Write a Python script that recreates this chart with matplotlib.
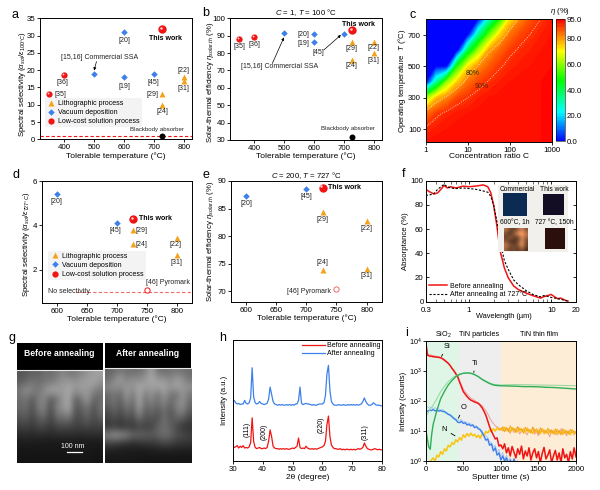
#!/usr/bin/env python
"""Nine-panel figure: selective absorber benchmarks, annealing tests, depth profile."""
import matplotlib
matplotlib.use("Agg")
import matplotlib.pyplot as plt
import matplotlib.transforms as mtrans
from matplotlib.colors import LinearSegmentedColormap
from matplotlib.patches import Rectangle
from matplotlib.ticker import NullFormatter
import numpy as np

plt.rcParams["font.family"] = ["Liberation Sans", "DejaVu Sans"]
plt.rcParams["mathtext.fontset"] = "custom"
plt.rcParams["mathtext.rm"] = "Liberation Sans"
plt.rcParams["mathtext.it"] = "Liberation Sans:italic"
plt.rcParams["mathtext.bf"] = "Liberation Sans:bold"
plt.rcParams["axes.linewidth"] = 0.7
plt.rcParams["xtick.major.width"] = 0.6
plt.rcParams["ytick.major.width"] = 0.6
plt.rcParams["xtick.minor.width"] = 0.4
plt.rcParams["ytick.minor.width"] = 0.4

W, H = 600, 490
ORANGE, BLUE, RED = "#f5a21b", "#3d80ea", "#f01414"
TICK_FS, XLABEL_FS, YLABEL_FS, NOTE_FS = 5.7, 6.0, 5.6, 5.0

# panel a / b
lith_t = [727, 727, 800, 800]
a_lith = [13, 10, 18, 16.8]
a_vac_t = [500, 600, 600, 700]
a_vac = [19, 31, 18, 19]
sol_t = [350, 400]
a_sol = [13.2, 18.6]
b_lith = [86.5, 76, 86.5, 80]
b_vac = [91.5, 91, 86.5, 91]
b_sol = [88, 89.5]
# panel d / e
d_lith = [3.8, 3.15, 3.45, 2.65]
de_vac_t = [600, 700]
d_vac = [5.4, 4.1]
e_lith = [84.3, 73.8, 82.7, 74.1]
e_vac = [87.3, 88.5]

# panel c, efficiency
c_ratio = [1, 1.78, 3.16, 5.62, 10, 17.8, 31.6, 56.2, 100, 178, 316, 562, 1000]
c_temp = [21, 100, 200, 300, 400, 500, 600, 700, 800]
c_eta = [
    [93, 93.5, 94, 94, 94, 94, 94, 94, 94, 94, 94, 94, 94.5],
    [91, 92.5, 93, 93.5, 93.5, 94, 94, 94, 94, 94, 94, 94, 94.5],
    [84, 89, 91.5, 92.5, 93, 93.5, 93.5, 94, 94, 94, 94, 94, 94.5],
    [60, 76, 82, 88, 90, 92, 93, 93.5, 93.5, 94, 94, 94, 94.5],
    [0, 32, 60, 75, 84, 88, 90.5, 92, 93, 93.5, 94, 94, 94.5],
    [0, 0, 0, 50, 72, 81, 86, 89.5, 91.5, 92.5, 93, 93.5, 94],
    [0, 0, 0, 0, 40, 62, 79, 85, 89, 91, 92, 93, 93.5],
    [0, 0, 0, 0, 0, 33, 56, 74, 84, 88, 90.3, 92, 93],
    [0, 0, 0, 0, 0, 0, 28, 48, 72, 82, 87, 90.2, 92],
]

# panel f
f_wl = [0.3, 0.33, 0.38, 0.42, 0.46, 0.5, 0.55, 0.6, 0.7, 0.85, 1, 1.2, 1.5, 1.7, 1.85, 2,
        2.2, 2.4, 2.7, 3, 3.5, 4, 5, 6, 7, 7.5, 8, 9, 10, 11, 12, 13, 15, 16]
f_before = [93, 91, 89, 90, 93, 96, 94, 95, 94, 95.5, 95, 95.5, 96.5, 95, 90, 80,
            62, 42, 28, 20, 13, 10, 7, 5, 3.5, 3, 4, 5, 6, 4, 2.5, 3, 1, 0.5]
f_after = [88, 88, 89.5, 93, 95, 97, 95, 94, 93.5, 94, 93.5, 93, 91.5, 90.5, 87, 80,
           66, 50, 34, 27, 18, 14, 9, 6, 4.5, 4, 5, 4.5, 3.5, 3, 2.5, 2, 1, 0.5]

# panel g, grey levels of the two SEM crops (below the black caption band)
g_left = [
    [95, 100, 110, 105, 125, 120, 135, 150, 130, 135, 150, 165, 175, 180],
    [105, 115, 130, 125, 130, 135, 150, 170, 175, 165, 175, 180, 185, 165],
    [135, 165, 150, 130, 160, 190, 185, 170, 190, 165, 175, 170, 150, 130],
    [120, 130, 100, 140, 150, 100, 125, 170, 185, 105, 135, 175, 110, 120],
    [115, 125, 85, 140, 145, 85, 150, 165, 190, 95, 110, 130, 90, 130],
    [95, 105, 80, 110, 120, 75, 125, 130, 145, 85, 90, 115, 80, 110],
    [75, 80, 65, 85, 85, 65, 85, 90, 85, 75, 80, 85, 75, 80],
    [50, 55, 50, 55, 55, 50, 55, 55, 55, 55, 50, 55, 55, 55],
    [32, 32, 32, 30, 30, 30, 30, 30, 30, 30, 30, 30, 30, 30],
    [26, 26, 26, 26, 26, 26, 26, 26, 28, 28, 28, 28, 26, 26],
    [22, 22, 22, 22, 22, 22, 22, 22, 22, 22, 24, 24, 22, 22],
]
g_right = [
    [110, 120, 130, 125, 120, 125, 140, 185, 125, 120, 125, 130, 125, 120],
    [120, 150, 180, 140, 160, 150, 170, 190, 170, 165, 150, 175, 160, 130],
    [150, 165, 150, 175, 165, 190, 180, 175, 185, 190, 165, 185, 170, 165],
    [115, 130, 115, 170, 130, 190, 130, 170, 120, 170, 130, 120, 170, 130],
    [110, 130, 100, 150, 115, 185, 125, 140, 120, 155, 110, 150, 165, 120],
    [85, 110, 85, 120, 95, 170, 100, 120, 95, 125, 95, 130, 150, 100],
    [70, 85, 70, 90, 80, 120, 90, 95, 85, 130, 95, 110, 100, 75],
    [60, 70, 55, 65, 60, 75, 70, 75, 110, 125, 110, 80, 60, 55],
    [150, 170, 165, 150, 120, 115, 110, 105, 110, 125, 115, 90, 85, 70],
    [75, 70, 60, 55, 50, 55, 60, 60, 70, 80, 75, 65, 60, 60],
    [34, 34, 32, 32, 30, 30, 30, 32, 32, 32, 32, 32, 30, 30],
    [26, 26, 26, 26, 26, 26, 24, 24, 24, 24, 24, 24, 24, 24],
]
g_sample = [
    [150, 100, 90, 120, 170, 110],
    [110, 70, 120, 190, 215, 150],
    [90, 130, 95, 75, 180, 125],
    [125, 75, 70, 100, 190, 90],
    [160, 120, 95, 110, 205, 95],
    [130, 85, 110, 80, 120, 70],
]

# panel h, sampled every half degree from 30 to 80
h_angle = np.arange(30, 80.5, 0.5)
h_before = [12, 11, 11.5, 12.5, 10.5, 12, 11, 12.5, 10.5, 11,
            10.5, 11.5, 15, 35.5, 16, 11, 10, 10.5, 11, 10,
            10, 10.5, 10, 11, 16, 25.5, 20, 12, 10.5, 10,
            10, 9.5, 10, 9.5, 10, 9.5, 10, 9.5, 9.5, 10,
            10.5, 10, 11, 12, 18.8, 11, 10, 10.5, 10, 12,
            10.5, 10, 9.5, 10, 9.5, 10, 9.5, 10, 10.5, 11,
            11.5, 12.5, 16, 30, 37, 20, 13, 11, 10, 10,
            9.5, 9.5, 10, 9, 9.5, 9, 9.5, 9.5, 9, 9.5,
            9, 9.5, 9, 9.5, 10, 9.5, 10, 11, 14.7, 12,
            10, 9.5, 9, 9, 9.5, 10, 9.5, 9, 9.5, 9, 9]
h_after = [49, 50, 48, 47, 47.5, 46.5, 47, 47, 50, 47.5,
           47, 48, 52, 77, 53, 48, 47, 47.5, 49, 47.5,
           47, 46.5, 47, 47.5, 51, 61, 55, 49, 47, 46.5,
           46, 46.5, 46, 46.5, 46, 46, 46.5, 46, 46.5, 46,
           46.5, 46, 47, 47, 50, 61, 47.5, 46.5, 47, 47.5,
           47, 47, 46.5, 46, 46.5, 46, 46, 46.5, 47, 47,
           47, 48, 54, 72, 79, 58, 49, 47, 46, 46,
           46, 46.5, 46, 46, 46.5, 46, 46, 46.5, 46, 46.5,
           46, 46.5, 46, 46.5, 46, 46.5, 47, 49, 52, 49,
           47, 46, 46, 46.5, 48, 47, 46, 46, 46, 45.5, 45.5]

# panel i, counts every 25 s
i_step = 25
si_counts = [9000, 3300, 3100, 3050, 2950, 2900, 2850, 2800, 2700, 2500, 2250, 2000, 1770, 1500,
             1200, 1000, 800, 640, 430, 300, 205, 170, 140, 120, 107, 100, 93, 88, 83, 72, 60,
             46, 34, 22, 14, 10, 7.4, 5.5, 6, 3.2, 3.5, 2.6, 3.8, 1.9, 2.8, 1.5, 3.1, 2.0, 1.3,
             2.6, 1.7, 3.2, 1.2, 2.2, 1.5, 2.8, 1.1, 1.9, 2.6, 1.3, 2.1, 0.9, 1.8, 2.9, 1.2, 1.6,
             2.4, 0.9, 1.5, 2.3, 1.1, 1.9, 0.9, 2.6, 1.3, 1.7, 0.9, 2.1, 1.2, 2.8, 1.4]
si_faded = [9000, 3600, 3400, 3300, 3200, 3100, 3000, 2900, 2800, 2600, 2400, 2100, 1850, 1550,
            1250, 1050, 850, 680, 480, 340, 250, 200, 170, 145, 125, 115, 105, 95, 88, 78, 70,
            58, 48, 38, 28, 22, 18, 15, 14, 12.5, 11, 12, 9.5, 13, 10.5, 8.5, 12, 9, 11, 14, 8,
            10, 12, 9, 7.5, 11, 9.5, 13, 8, 10, 7, 9.5, 12, 8, 10.5, 9, 6.5, 11, 8.5, 10, 7.5,
            9, 12, 8, 9.5, 7, 10, 8.5, 11, 7.5, 9.5]
o_counts = [42, 46, 50, 48, 52, 47, 50, 46, 48, 45, 44, 40, 36, 34, 30, 26, 24, 20, 19, 21, 18, 19,
            16, 17, 15, 16, 13, 14, 12, 11, 9, 7, 5, 5.5, 3.4, 3.8, 2.2, 2.8, 1.6, 1.9, 1.1, 1.5,
            1.0, 1.3, 0.8, 1.1, 0.7, 1.2, 0.8, 1.0, 0.7]
o_faded = [60, 64, 58, 62, 56, 60, 54, 55, 50, 52, 46, 42, 38, 36, 32, 28, 26, 24, 22, 24, 20, 21,
           18, 19, 17, 17, 15, 15, 13, 12, 10, 8, 7, 6, 4.5, 4, 3, 3.4, 2, 2.5, 1.4, 2, 1.1, 1.6,
           1, 1.3, 0.9, 1.2, 0.8]
n_counts = [0.8, 0.6, 0.9, 1.1, 1.3, 1.0, 1.6, 1.4, 2.1, 1.7, 2.6, 2.2, 3.4, 3.0, 4.2, 3.6, 5.2,
            4.4, 6.1, 5.0, 7.6, 6.2, 8.4, 6.8, 8.6, 7.0, 7.8, 6.2, 7.4, 5.8, 8.0, 7.0, 9.8, 8.6,
            11, 9.6, 12, 10, 13, 10.8, 12.5, 10.2, 13.5, 10.6, 12.2, 9.6, 13.2, 10.4, 11.8, 9.4,
            12.6, 9.8, 11.4, 8.9, 12.8, 9.3, 11, 8.4, 11.6, 9.2, 10.8, 8.2, 12, 8.8, 10.6, 8.2,
            11, 8.6, 10.2, 7.8, 11.4, 8.4, 9.8, 7.9, 10.8, 8.4, 10, 7.6, 11, 8.2, 9.4]
n_faded = [11, 14, 10, 13, 9.5, 15, 11, 12.5, 9, 14, 10.5, 12, 8.5, 13.5, 10, 11.5, 8.5, 14, 9.5,
           12, 8, 13, 9.5, 11, 8.5, 12.5, 9, 11, 8, 12, 9, 10.5, 7.5, 12, 8.5, 10.5, 8, 11.5,
           9, 10, 8.5]
ti_t = [0, 20, 40, 60, 80, 100, 150, 200, 250, 300, 350, 400, 450, 500, 550, 600, 650, 700, 750,
        800, 850, 900, 950, 1000, 1100, 1200, 1300, 1400, 1500, 1600, 1700, 1800, 1900, 2000]
ti_counts = [12, 6, 3, 2.5, 8, 17, 50, 120, 210, 340, 480, 640, 760, 830, 850, 830, 750, 640, 520,
             440, 380, 340, 325, 320, 315, 310, 300, 300, 295, 285, 280, 270, 260, 250]
ti_faded_t = [0, 50, 100, 150, 200, 250, 300, 350, 400, 450, 500, 550, 600, 650, 700, 750, 800,
              850, 900, 1000, 1200, 1500, 1800, 2000]
ti_faded = [30, 48, 74, 120, 205, 310, 440, 560, 690, 780, 840, 860, 840, 770, 660, 540, 460,
            400, 360, 340, 350, 340, 330, 320]


def add_axes(left, top, right, bottom, **kw):
    return fig.add_axes([left / W, 1 - bottom / H, (right - left) / W, (bottom - top) / H], **kw)


def style(ax, xlab_y, ylab_x, ylab_y=None):
    # axis labels are placed at their pixel positions in the figure
    ax.tick_params(labelsize=TICK_FS, length=2, pad=1.5)
    pos = ax.get_position()
    px_x = lambda v: (v / W - pos.x0) / pos.width
    px_y = lambda v: ((1 - v / H) - pos.y0) / pos.height
    ax.xaxis.label.set_size(XLABEL_FS)
    ax.yaxis.label.set_size(YLABEL_FS)
    ax.xaxis.label.set_va("center")
    ax.yaxis.label.set_va("center")
    ax.xaxis.set_label_coords(0.5, px_y(xlab_y))
    ax.yaxis.set_label_coords(px_x(ylab_x), 0.5 if ylab_y is None else px_y(ylab_y))


def ball(ax, x, y, size, label=None):
    # glossy red sphere: red disc plus an offset highlight
    h = ax.plot([x], [y], "o", color=RED, ms=size, mec="none", zorder=4, label=label)[0]
    tr = mtrans.offset_copy(ax.transData, fig=fig, x=-size * 0.14, y=size * 0.14, units="points")
    ax.plot([x], [y], "o", color="#ffd0d0", ms=size * 0.3, mec="none", zorder=5, transform=tr)
    return h


def scatter_groups(ax, t_l, y_l, t_v, y_v, t_s=None, y_s=None):
    ax.plot(t_l, y_l, "^", color=ORANGE, ms=4.2, mec="none", label="Lithographic process", zorder=3)
    ax.plot(t_v, y_v, "D", color=BLUE, ms=3.3, mec="none", label="Vacuum deposition", zorder=3)
    if t_s is not None:
        for x, y in zip(t_s, y_s):
            ball(ax, x, y, 4.5)
    ax.plot([], [], "o", color=RED, ms=4.5, mec="none", label="Low-cost solution process")


def notes(ax, items):
    for x, y, s in items:
        ax.text(x, y, s, ha="center", va="center", fontsize=NOTE_FS, color="#222222")


def legend(ax, x0, y0):
    ax.legend(loc="lower left", bbox_to_anchor=(x0, y0), fontsize=NOTE_FS, frameon=True,
              facecolor="#f3f3f3", edgecolor="none", framealpha=1, handletextpad=0.4,
              labelspacing=0.3, borderpad=0.3, borderaxespad=0, handlelength=1.3)


fig = plt.figure(figsize=(W / 100, H / 100), dpi=100)

# a
ax = add_axes(40, 18.3, 192, 139.3)
scatter_groups(ax, lith_t, a_lith, a_vac_t, a_vac, sol_t, a_sol)
ball(ax, 727, 31.8, 6)
ax.axhline(1, color=RED, ls="--", lw=0.8, dashes=(3, 2))
ax.plot([727], [1], "o", color="black", ms=4.3, mec="none", zorder=4)
notes(ax, [(600, 28.6, "[20]"), (517, 23.6, "[15,16] Commercial SSA"), (600, 15.4, "[19]"),
           (396, 16.4, "[36]"), (389, 13, "[35]"), (699, 16.5, "[45]"), (799, 20, "[22]"),
           (797, 14.8, "[31]"), (693, 13, "[29]"), (726, 8, "[24]")])
ax.text(708, 2.8, "Blackbody absorber", ha="center", va="center", fontsize=4.4, color="#222222")
ax.text(738, 29.2, "This work", ha="center", va="center", fontsize=NOTE_FS, fontweight="bold")
ax.annotate("", xy=(500, 19.9), xytext=(508, 22.5),
            arrowprops=dict(arrowstyle="-|>", lw=0.5, color="black", mutation_scale=4, shrinkA=0, shrinkB=0))
ax.set_xlim(320, 826)
ax.set_ylim(0, 35)
ax.set_xticks([400, 500, 600, 700, 800])
ax.set_yticks(range(0, 40, 5))
ax.set_xlabel("Tolerable temperature (°C)")
ax.set_ylabel(r"Spectral selectivity ($\alpha_{sol}/\varepsilon_{100°C}$)")
legend(ax, 0.03, 0.1)
style(ax, 155.7, 22, 84)

# b
ax = add_axes(230, 18.3, 381.7, 140)
scatter_groups(ax, lith_t, b_lith, a_vac_t, b_vac, sol_t, b_sol)
ball(ax, 727, 93, 6)
ax.plot([727], [32], "o", color="black", ms=4.3, mec="none", zorder=4)
notes(ax, [(566, 90.6, "[20]"), (566, 85.6, "[19]"), (615, 80.2, "[45]"), (725, 82.5, "[29]"),
           (798, 83, "[22]"), (800, 76, "[31]"), (725, 72.6, "[24]"), (351, 83.5, "[35]"),
           (400, 85, "[36]"), (484, 72.2, "[15,16] Commercial SSA")])
ax.text(715, 36.8, "Blackbody absorber", ha="center", va="center", fontsize=4.4, color="#222222")
ax.text(749, 96.7, "This work", ha="center", va="center", fontsize=NOTE_FS, fontweight="bold")
for xy, xytext in [((500, 89), (461, 74)), ((690, 90.4), (633, 81.8))]:
    ax.annotate("", xy=xy, xytext=xytext,
                arrowprops=dict(arrowstyle="-|>", lw=0.5, color="black", mutation_scale=4, shrinkA=0, shrinkB=0))
ax.set_xlim(320, 826)
ax.set_ylim(30, 100)
ax.set_xticks([400, 500, 600, 700, 800])
ax.set_yticks(range(30, 110, 10))
ax.set_xlabel("Tolerable temperature (°C)")
ax.set_ylabel(r"Solar-thermal efficiency $\eta_{solar‑th}$ (%)")
ax.set_title(r"$C$ = 1, $T$ = 100 °C", fontsize=5.6, pad=2)
style(ax, 155.7, 210.7, 82)

# c
rainbow = LinearSegmentedColormap.from_list(
    "rb", [(0, "#0000ff"), (0.24, "#00ffff"), (0.5, "#00ff00"), (0.74, "#ffff00"), (1, "#ff0000")])
ax = add_axes(425.7, 19.3, 551.7, 141.7)
cf = ax.contourf(c_ratio, c_temp, c_eta, levels=np.linspace(0, 95, 96), cmap=rainbow)
ax.contour(c_ratio, c_temp, c_eta, levels=[80, 90], colors="#f4f4e8", linewidths=0.6, linestyles=":")
ax.set_xscale("log")
ax.set_xlim(1, 1000)
ax.set_ylim(21, 800)
ax.set_xticks([1, 10, 100, 1000], ["1", "10", "100", "1000"])
ax.set_yticks([100, 300, 500, 700])
ax.minorticks_off()
ax.text(13, 456, "80%", ha="center", va="center", fontsize=NOTE_FS, color="#333300")
ax.text(21, 371, "90%", ha="center", va="center", fontsize=NOTE_FS, color="#552200")
ax.set_xlabel("Concentration ratio C")
ax.set_ylabel(r"Operating temperature  $T$ (°C)")
style(ax, 156.7, 402)
cax = add_axes(555.7, 19.3, 565, 141.5)
cb = fig.colorbar(cf, cax=cax, ticks=[0, 20, 40, 60, 80, 95], format="%.1f")
cb.outline.set_linewidth(0.4)
cax.tick_params(labelsize=TICK_FS, length=0, pad=1.5)
fig.text(560 / W, 1 - 11.7 / H, r"$\eta$ (%)", fontsize=5.6, ha="center", va="center")

# d
ax = add_axes(41.7, 181, 191.7, 303.3)
scatter_groups(ax, lith_t, d_lith, de_vac_t, d_vac)
ball(ax, 727, 4.3, 6)
ax.axhline(1, xmin=0.23, color="#f06a6a", ls="--", lw=0.8, dashes=(3, 2))
ax.plot([750], [1.07], "o", mfc="white", mec=RED, mew=0.7, ms=3.8, zorder=4)
notes(ax, [(600, 5.07, "[20]"), (698, 3.76, "[45]"), (742, 3.76, "[29]"), (742, 3.16, "[24]"),
           (798, 3.16, "[22]"), (799, 2.33, "[31]"), (620, 1.02, "No selectivity"),
           (785, 1.41, "[46] Pyromark")])
ax.text(764, 4.29, "This work", ha="center", va="center", fontsize=NOTE_FS, fontweight="bold")
ax.set_xlim(575, 825)
ax.set_ylim(0.49, 6)
ax.set_xticks([600, 650, 700, 750, 800])
ax.set_yticks([2, 4, 6])
ax.set_xlabel("Tolerable temperature (°C)")
ax.set_ylabel(r"Spectral selectivity ($\alpha_{sol}/\varepsilon_{727°C}$)")
legend(ax, 0.044, 0.19)
style(ax, 318.7, 26.7, 244)

# e
ax = add_axes(231, 181, 381.7, 302.3)
scatter_groups(ax, lith_t, e_lith, de_vac_t, e_vac)
ball(ax, 727, 88.8, 6)
ax.plot([750], [70.5], "o", mfc="white", mec="#f06a6a", mew=0.7, ms=3.8, zorder=4)
notes(ax, [(600, 85.9, "[20]"), (700, 87.1, "[45]"), (726, 83, "[29]"), (799, 81.4, "[22]"),
           (726, 75.2, "[24]"), (799, 72.9, "[31]"), (705, 70, "[46] Pyromark")])
ax.text(764, 88.8, "This work", ha="center", va="center", fontsize=NOTE_FS, fontweight="bold")
ax.set_xlim(575, 825)
ax.set_ylim(68, 90)
ax.set_xticks([600, 650, 700, 750, 800])
ax.set_yticks([70, 75, 80, 85, 90])
ax.set_xlabel("Tolerable temperature (°C)")
ax.set_ylabel(r"Solar-thermal efficiency $\eta_{solar‑th}$ (%)")
ax.set_title(r"$C$ = 200, $T$ = 727 °C", fontsize=5.6, pad=2)
style(ax, 317.7, 210.7)

# f
ax = add_axes(425.7, 180.7, 576, 301.7)
ax.plot(f_wl, f_before, color=RED, lw=1.1, label="Before annealing")
ax.plot(f_wl, f_after, color="black", lw=0.8, ls="--", dashes=(2, 1.5), label="After annealing at 727°C")
ax.set_xscale("log")
ax.set_xlim(0.3, 20)
ax.set_ylim(0, 100)
ax.set_xticks([0.3, 1, 10, 20], ["0.3", "1", "10", "20"])
ax.set_yticks(range(0, 120, 20))
ax.tick_params(which="both", top=True, right=True)
ax.xaxis.set_minor_formatter(NullFormatter())
ax.set_xlabel("Wavelength (µm)")
ax.set_ylabel("Absorptance (%)")
ax.legend(loc="lower left", fontsize=NOTE_FS, frameon=False, handlelength=2.5, labelspacing=0.1,
          borderaxespad=0.3, borderpad=0.2, handletextpad=0.5)
style(ax, 316, 406)
ax.xaxis.label.set_size(5.3)
ax.xaxis.set_label_coords(0.52, (301.7 - 316) / 121)
ax.tick_params(which="both", direction="in")
ax.tick_params(axis="x", which="both", pad=4)

# g, SEM crops
for (left, right, cut, grey, cap, cx) in [(16.7, 102.7, 370, g_left, "Before annealing", 59),
                                          (105.3, 191.3, 367.7, g_right, "After annealing", 148)]:
    ax = add_axes(left, cut, right, 463.3)
    ax.imshow(grey, cmap="gray", vmin=0, vmax=285, aspect="auto", interpolation="bicubic")
    ax.axis("off")
    top = add_axes(left, 343.3, right, cut)
    top.set_facecolor("black")
    top.set_xticks([])
    top.set_yticks([])
    for sp in top.spines.values():
        sp.set_visible(False)
    fig.text(cx / W, 1 - 353 / H, cap, color="white", fontsize=6.2, fontweight="bold",
             ha="center", va="center")
    fig.add_artist(plt.Line2D([left / W, right / W], [1 - cut / H, 1 - cut / H], color="#e8e8e8", lw=0.8))
fig.add_artist(plt.Line2D([66.7 / W, 81.7 / W], [1 - 452 / H, 1 - 452 / H], color="white", lw=0.9))
fig.text(73 / W, 1 - 446.5 / H, "100 nm", color="white", fontsize=5, ha="center", va="center")

# h
ax = add_axes(232.7, 340, 382.3, 460.7)
ax.plot(h_angle, h_before, color=RED, lw=0.9, label="Before annealing")
ax.plot(h_angle, h_after, color=BLUE, lw=0.9, label="After annealing")
ax.set_xlim(30, 80)
ax.set_ylim(0, 100)
ax.set_xticks(range(30, 90, 10))
ax.set_yticks([])
for x, y, s in [(34.7, 26, "(111)"), (40.5, 24, "(200)"), (59.5, 29.6, "(220)"), (74.2, 24, "(311)")]:
    ax.text(x, y, s, rotation=90, ha="center", va="center", fontsize=NOTE_FS)
ax.set_xlabel("2θ (degree)")
ax.set_ylabel("Intensity (a.u.)")
ax.legend(loc="upper right", fontsize=NOTE_FS, frameon=False, labelspacing=0.2, handlelength=3.2,
          borderaxespad=0.2, borderpad=0.1, handletextpad=0.3)
style(ax, 477, 225)

# i
ax = add_axes(425.7, 340.7, 576, 461.3)
ax.axvspan(0, 440, color="#dff6e6", lw=0)
ax.axvspan(440, 1000, color="#eeeeee", lw=0)
ax.axvspan(1000, 2000, color="#fdecd6", lw=0)
for vals, col, lw, start in [(si_faded, "#f59a9a", 0.7, 0), (o_faded, "#a9c8f6", 0.7, 0),
                             (n_counts, "#f8c40f", 1.1, 0), (n_faded, "#f3a42a", 0.7, 1000),
                             (o_counts, BLUE, 1.0, 0), (si_counts, RED, 1.1, 0)]:
    ax.plot(start + i_step * np.arange(len(vals)), vals, color=col, lw=lw)
ax.plot(ti_faded_t, ti_faded, color="#8fd6a0", lw=0.7)
ax.plot(ti_t, ti_counts, color="#2fae57", lw=1.0)
ax.set_yscale("log")
ax.set_xlim(0, 2000)
ax.set_ylim(1, 1e4)
ax.set_xticks([0, 500, 1000, 1500, 2000])
ax.set_yticks([1, 10, 100, 1000, 10000])
ax.minorticks_off()
for s, tx, yy, xa, ya in [("Si", 280, 6300, 210, 3000), ("Ti", 656, 1780, 640, 880),
                          ("O", 500, 60, 435, 27), ("N", 248, 11.5, 390, 7)]:
    ax.annotate(s, xy=(xa, ya), xytext=(tx, yy), fontsize=NOTE_FS + 0.4, ha="center", va="center",
                arrowprops=dict(arrowstyle="-", lw=0.6, color="black", shrinkA=1, shrinkB=0))
ax.set_xlabel("Sputter time (s)")
ax.set_ylabel("Intensity (counts)")
style(ax, 477, 403.5)
ax.tick_params(axis="y", labelsize=5.2, pad=1)
for s, cx in [(r"SiO$_2$", 443), ("TiN particles", 479), ("TiN thin film", 539)]:
    fig.text(cx / W, 1 - 335 / H, s, fontsize=5.2, ha="center", va="center")

# overlay in pixel coordinates: photo inset of f, panel letters
ov = fig.add_axes([0, 0, 1, 1], zorder=20)
ov.set_xlim(0, W)
ov.set_ylim(H, 0)
ov.axis("off")
ov.add_patch(Rectangle((498, 185), 70, 67, facecolor="#f1f0ed", edgecolor="none"))
for x0, y0, x1, y1, col in [(503, 193, 527, 216, "#0c2b52"), (543, 194, 564, 215, "#140e24"),
                            (545, 228, 565, 249, "#2b0f0c")]:
    ov.add_patch(Rectangle((x0, y0), x1 - x0, y1 - y0, facecolor=col, edgecolor="none"))
ov.imshow(g_sample, cmap="copper", vmin=20, vmax=240, extent=(504, 528, 251, 228),
          interpolation="bicubic", aspect="auto", zorder=3)
ov.set_xlim(0, W)
ov.set_ylim(H, 0)
for x, y, s in [(517, 189, "Commercial"), (554, 189, "This work"), (515, 223, "600°C, 1h"),
                (554, 223, "727 °C, 150h")]:
    ov.text(x, y, s, ha="center", va="center", fontsize=4.8)
for x, y, s in [(15, 14.7, "a"), (206, 13, "b"), (413, 15, "c"), (16, 175, "d"), (206, 175, "e"),
                (404, 174, "f"), (11.7, 338, "g"), (223, 338, "h"), (407, 333, "i")]:
    ov.text(x, y, s, ha="center", va="center", fontsize=9)

fig.savefig("out.png", dpi=100)
